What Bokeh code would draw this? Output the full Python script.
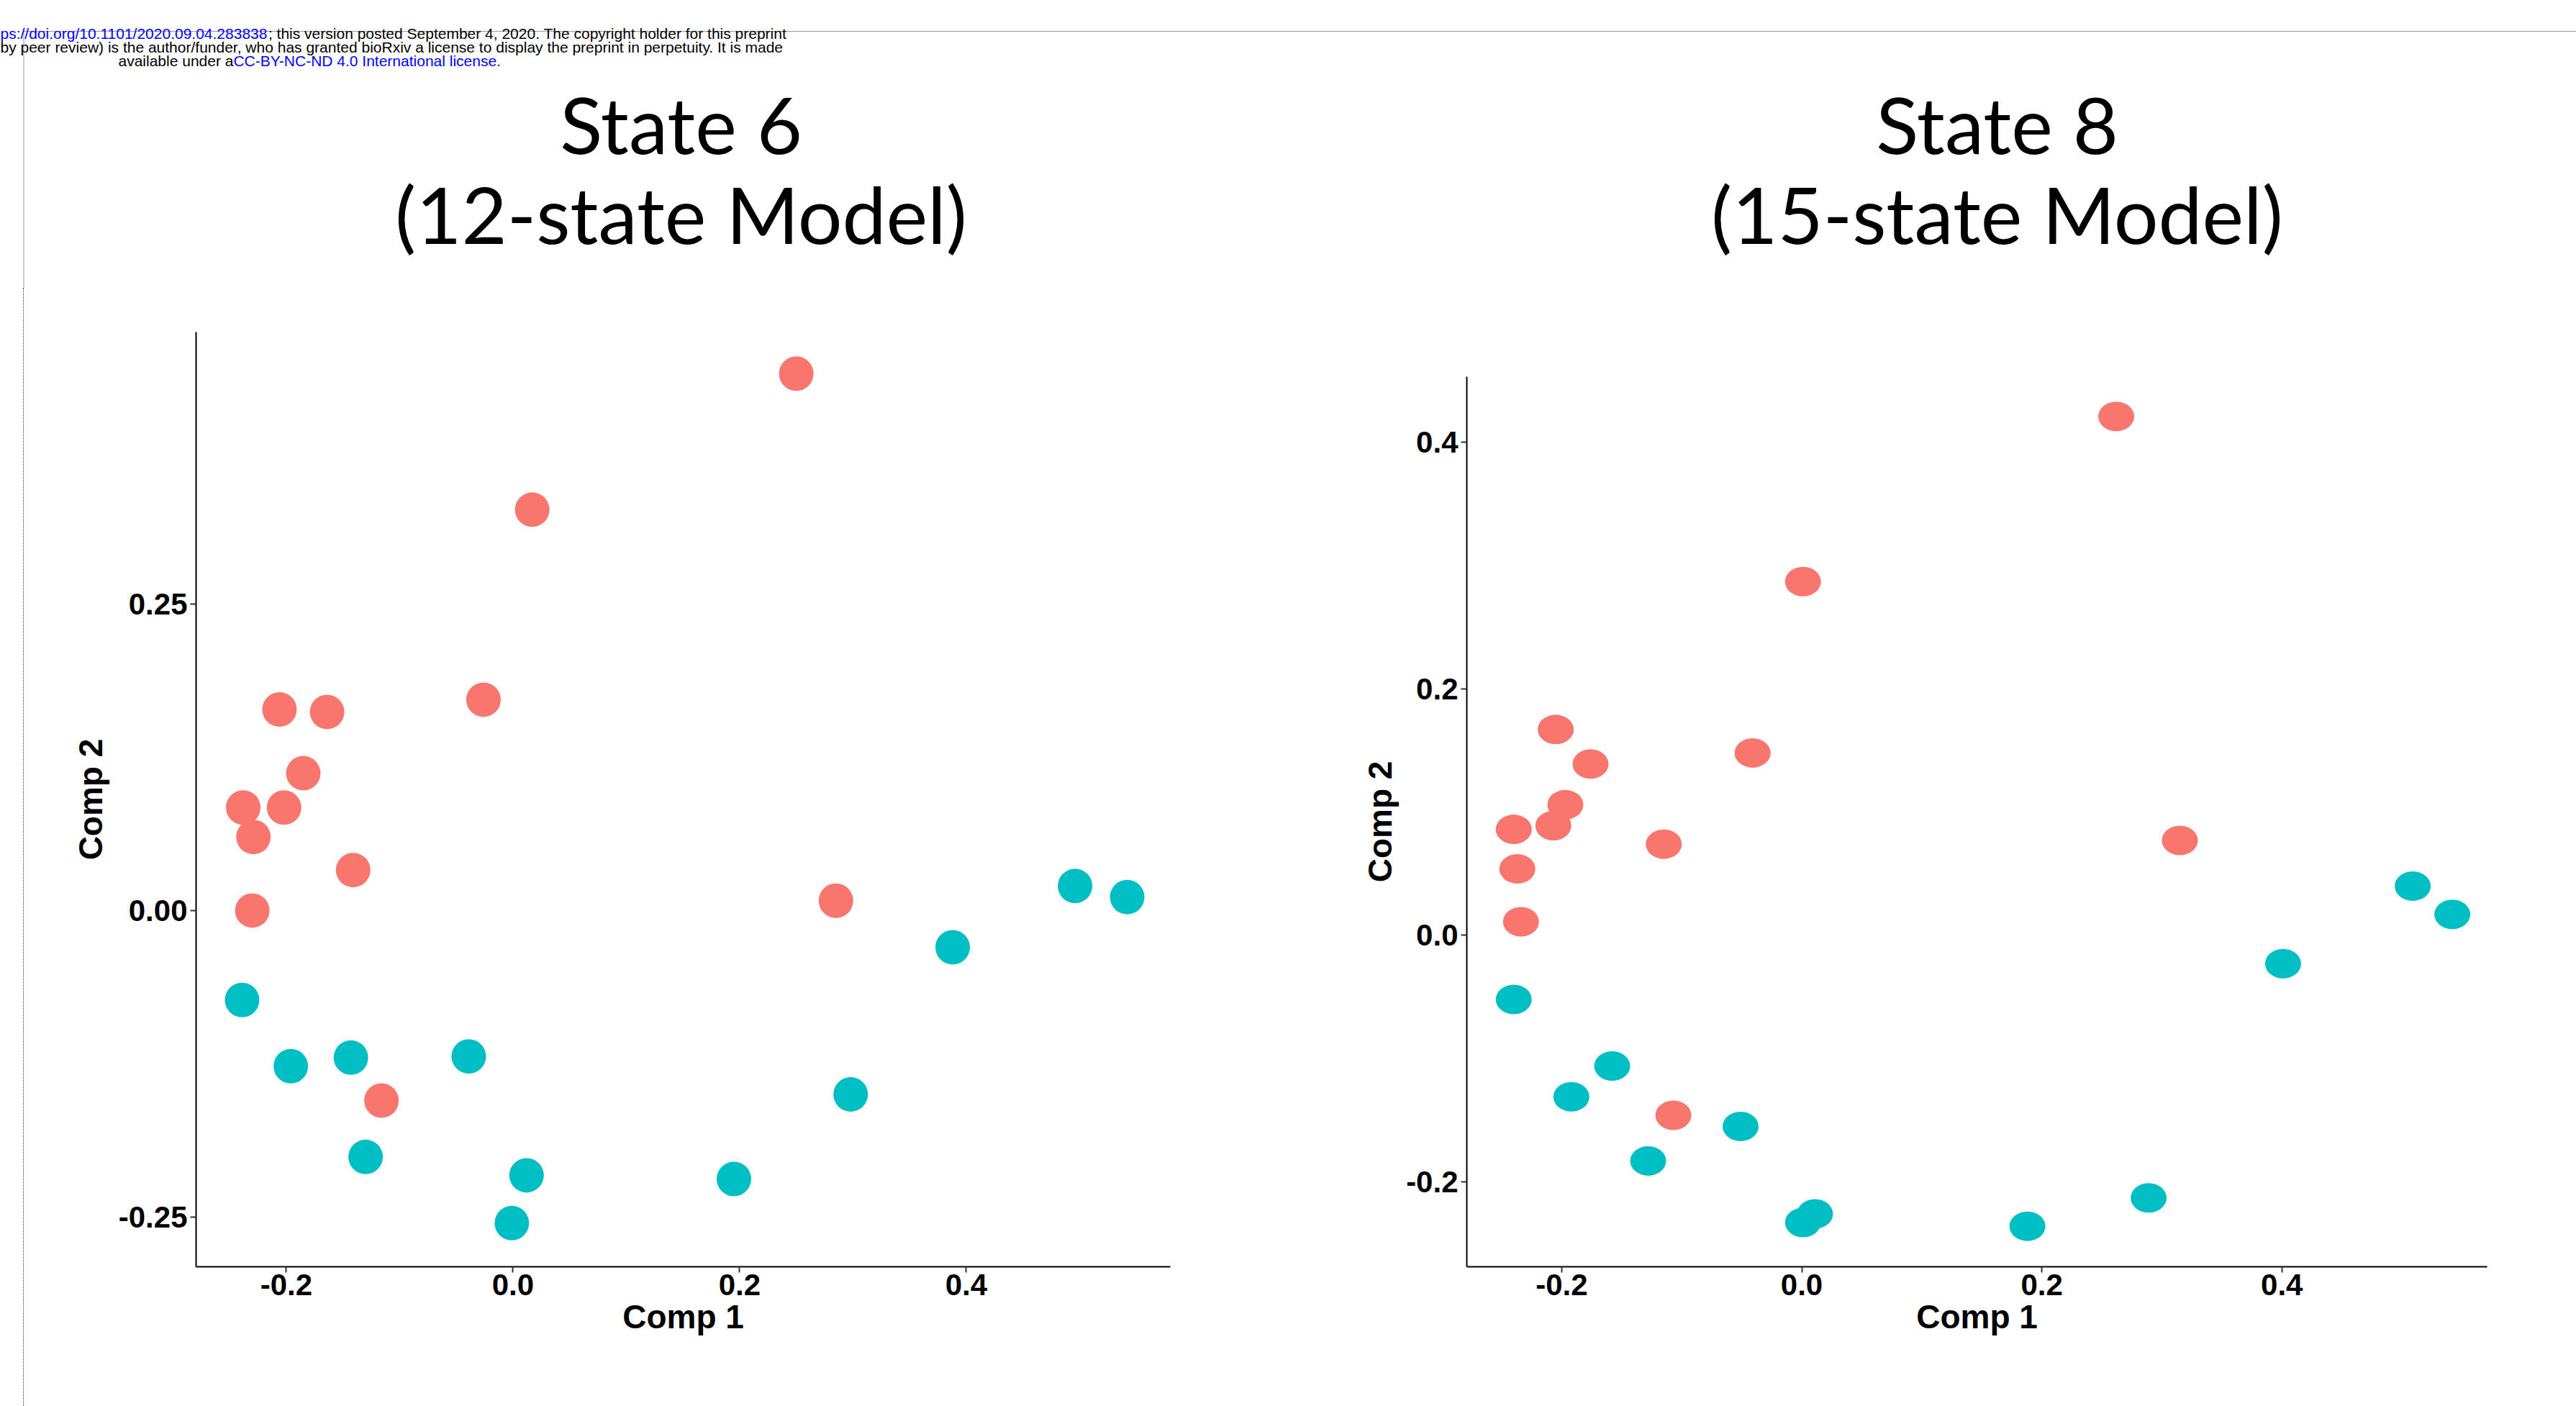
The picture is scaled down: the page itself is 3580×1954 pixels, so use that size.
from bokeh.plotting import figure
from bokeh.layouts import column, row
from bokeh.models import Range1d, FixedTicker, PrintfTickFormatter, Spacer, Title
from bokeh.core.properties import value
from bokeh.embed import file_html
from bokeh.resources import INLINE

# ---------------- data ----------------
# State 6 (12-state model)
s6_red_x = [0.250, 0.017, -0.026, -0.206, -0.164, -0.185, -0.238, -0.202, -0.229, -0.141, -0.230, 0.285, -0.116]
s6_red_y = [0.438, 0.327, 0.172, 0.164, 0.162, 0.112, 0.084, 0.084, 0.060, 0.033, 0.000, 0.008, -0.155]
s6_cyan_x = [0.496, 0.542, 0.388, -0.239, -0.196, -0.143, -0.039, 0.298, -0.130, 0.012, 0.195, -0.001]
s6_cyan_y = [0.020, 0.011, -0.030, -0.073, -0.127, -0.120, -0.119, -0.150, -0.201, -0.216, -0.219, -0.255]

# State 8 (15-state model)
s8_red_x = [0.262, 0.001, -0.041, -0.205, -0.176, -0.197, -0.207, -0.240, -0.115, 0.315, -0.237, -0.234, -0.107]
s8_red_y = [0.421, 0.287, 0.148, 0.167, 0.139, 0.106, 0.089, 0.086, 0.074, 0.077, 0.054, 0.011, -0.146]
s8_cyan_x = [0.509, 0.542, 0.401, -0.240, -0.158, -0.192, -0.051, -0.128, 0.011, 0.001, 0.188, 0.289]
s8_cyan_y = [0.040, 0.017, -0.023, -0.052, -0.106, -0.131, -0.155, -0.183, -0.226, -0.233, -0.236, -0.213]

s6_xticks = [-0.2, 0.0, 0.2, 0.4]
s6_yticks = [-0.25, 0.0, 0.25]
s8_xticks = [-0.2, 0.0, 0.2, 0.4]
s8_yticks = [-0.2, 0.0, 0.2, 0.4]

titles_left = ["State 6", "(12-state Model)"]
titles_right = ["State 8", "(15-state Model)"]
x_label = "Comp 1"
y_label = "Comp 2"

hdr1_blue = "ps://doi.org/10.1101/2020.09.04.283838"
hdr1_black = "; this version posted September 4, 2020. The copyright holder for this preprint"
hdr2 = "by peer review) is the author/funder, who has granted bioRxiv a license to display the preprint in perpetuity. It is made"
hdr3_black = "available under a"
hdr3_blue = "CC-BY-NC-ND 4.0 International license."

RED = "#F8766D"
CYAN = "#00BFC4"
W, H = 3580, 1954
HEAD_H = 400
FRAME_TOP, FRAME_BOT = 461, 1760
LINE_X = 32
GUTTER = 33
RULE_COLOR = "#333333"
DOT = dict(line_color=RULE_COLOR, line_width=1, line_dash="1 1")

# ---------------- header ----------------
hdr = figure(frame_width=W, frame_height=HEAD_H, x_range=Range1d(0, W), y_range=Range1d(HEAD_H, 0),
             output_backend="svg", toolbar_location=None, min_border=0,
             x_axis_type=None, y_axis_type=None)
hdr.xgrid.visible = False
hdr.ygrid.visible = False
hdr.outline_line_color = None
hdr.segment(x0=[LINE_X, LINE_X + 0.5], y0=[43, 43], x1=[W, LINE_X + 0.5], y1=[43, HEAD_H], **DOT)

em = 21
fs = f"{em}px"
font = value("Liberation Sans")
hdr.text(x=[0], y=[46], text=[hdr1_blue], text_color="#0000FF", text_font=font,
         text_font_size=fs, text_align="left", text_baseline="alphabetic")
hdr.text(x=[17.735 * em], y=[46], text=[hdr1_black], text_color="black", text_font=font,
         text_font_size=fs, text_align="left", text_baseline="alphabetic")
hdr.text(x=[0], y=[65], text=[hdr2], text_color="black", text_font=font,
         text_font_size=fs, text_align="left", text_baseline="alphabetic")
hdr.text(x=[164], y=[84], text=[hdr3_black], text_color="black", text_font=font,
         text_font_size=fs, text_align="left", text_baseline="alphabetic")
hdr.text(x=[164 + 7.615 * em], y=[84], text=[hdr3_blue], text_color="#0000FF", text_font=font,
         text_font_size=fs, text_align="left", text_baseline="alphabetic")

hdr.text(x=[946, 946], y=[171, 296], text=titles_left, text_color="black", text_font=value("Lato"),
         text_font_size="109px", text_align="center", text_baseline="alphabetic")
hdr.text(x=[2775, 2775], y=[171, 296], text=titles_right, text_color="black", text_font=value("Lato"),
         text_font_size="109px", text_align="center", text_baseline="alphabetic")

# page-margin dotted rule below the header
gutter = Spacer(width=GUTTER, height=H - HEAD_H,
                styles={"border-right": f"1px dotted {RULE_COLOR}", "box-sizing": "border-box"})


def style_axis(ax):
    ax.axis_line_color = "black"
    ax.axis_line_width = 2
    ax.major_tick_line_color = "#333333"
    ax.major_tick_line_width = 2
    ax.major_tick_out = 8
    ax.major_tick_in = 0
    ax.minor_tick_line_color = None
    ax.major_label_text_font = "Liberation Sans"
    ax.major_label_text_font_style = "bold"
    ax.major_label_text_font_size = "42px"
    ax.major_label_text_color = "black"
    ax.axis_label_text_font = "Liberation Sans"
    ax.axis_label_text_font_style = "bold"
    ax.axis_label_text_font_size = "46px"
    ax.axis_label_text_color = "black"


def panel(xr, yr, xt, yt, fmt_y, fmt_x, fw, bl, br, ybounds=None, ylabel_offset=None):
    p = figure(frame_width=fw, frame_height=FRAME_BOT - FRAME_TOP, x_range=Range1d(*xr), y_range=Range1d(*yr),
               output_backend="svg", toolbar_location=None,
               min_border_left=bl, min_border_right=br,
               min_border_top=FRAME_TOP - HEAD_H, min_border_bottom=H - FRAME_BOT)
    p.xgrid.visible = False
    p.ygrid.visible = False
    p.outline_line_color = None
    p.xaxis.ticker = FixedTicker(ticks=xt)
    p.yaxis.ticker = FixedTicker(ticks=yt)
    p.xaxis.formatter = PrintfTickFormatter(format=fmt_x)
    p.yaxis.formatter = PrintfTickFormatter(format=fmt_y)
    p.xaxis.axis_label = x_label
    style_axis(p.xaxis[0])
    style_axis(p.yaxis[0])
    p.xaxis.major_label_standoff = 2
    p.yaxis.major_label_standoff = 4
    p.xaxis.axis_label_standoff = 1
    if ybounds is not None:
        p.yaxis.bounds = ybounds
    if ylabel_offset is None:
        p.yaxis.axis_label = y_label
        p.yaxis.axis_label_standoff = 10
    else:
        # y label centred on the shortened axis line
        p.add_layout(Title(text=y_label, align="left", offset=ylabel_offset, vertical_align="bottom",
                           text_font="Liberation Sans", text_font_style="bold", text_font_size="46px",
                           text_color="black", standoff=16), "left")
    return p


# Panel 1: frame x 272..1626 ; 1575 px per unit in x, 1703.6 px per unit in y (0.00 at page y 1264.9)
P1_LEFT, P1_RIGHT = 272, 1626
p1_x0 = -0.2796
p1_x1 = p1_x0 + (P1_RIGHT - P1_LEFT) / 1575.0
p1_ytop = (1264.9 - FRAME_TOP) / 1703.6
p1_ybot = (1264.9 - FRAME_BOT) / 1703.6
f1 = panel((p1_x0, p1_x1), (p1_ybot, p1_ytop), s6_xticks, s6_yticks, "%.2f", "%.1f",
           P1_RIGHT - P1_LEFT, P1_LEFT - GUTTER, 1830 - P1_RIGHT)
f1.scatter(x=s6_red_x, y=s6_red_y, size=48, marker="circle", fill_color=RED, line_color=None)
f1.scatter(x=s6_cyan_x, y=s6_cyan_y, size=48, marker="circle", fill_color=CYAN, line_color=None)

# Panel 2: frame x 2038..3456 ; 1668 px/unit x, 1713 px/unit y (0.0 at page y 1299.4), axis top at page y 523
P2_LEFT, P2_RIGHT = 2038, 3456
P2_AXIS_TOP = 523
p2_x0 = -0.2791
p2_x1 = p2_x0 + (P2_RIGHT - P2_LEFT) / 1668.0
p2_ytop = (1299.4 - FRAME_TOP) / 1713.0
p2_ybot = (1299.4 - FRAME_BOT) / 1713.0
p2_axis_top = (1299.4 - P2_AXIS_TOP) / 1713.0
label_len = 3.667 * 46
label_offset = (FRAME_BOT - (P2_AXIS_TOP + FRAME_BOT) / 2) - label_len / 2
f2 = panel((p2_x0, p2_x1), (p2_ybot, p2_ytop), s8_xticks, s8_yticks, "%.1f", "%.1f",
           P2_RIGHT - P2_LEFT, P2_LEFT - 1830, W - P2_RIGHT, ybounds=(p2_ybot, p2_axis_top),
           ylabel_offset=label_offset)
f2.ellipse(x=s8_red_x, y=s8_red_y, width=50, height=41, width_units="screen", height_units="screen",
           fill_color=RED, line_color=None)
f2.ellipse(x=s8_cyan_x, y=s8_cyan_y, width=50, height=41, width_units="screen", height_units="screen",
           fill_color=CYAN, line_color=None)

layout = column(hdr, row(gutter, f1, f2, spacing=0), spacing=0)

open("out.html", "w").write(file_html(layout, INLINE))
